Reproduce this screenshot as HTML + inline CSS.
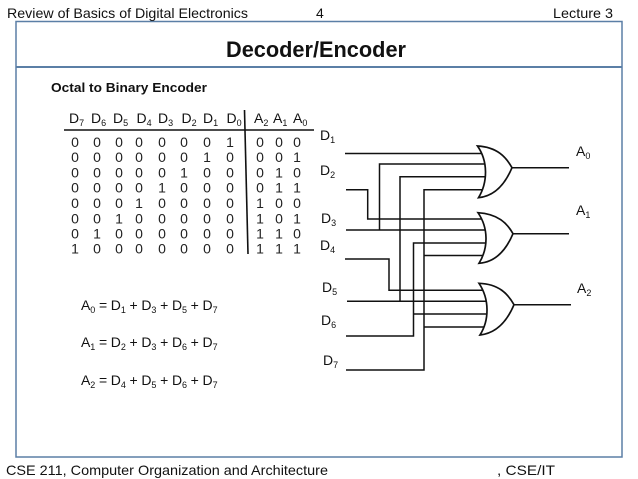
<!DOCTYPE html>
<html><head><meta charset="utf-8"><style>
html,body{margin:0;padding:0;background:#fff}
svg{display:block}
text{font-family:"Liberation Sans",sans-serif;fill:#111}
.s{font-size:14px}
.t{font-size:14px;text-anchor:middle;fill:#222}
.b{font-size:14px}
.e{font-size:14px;letter-spacing:-0.1px}
.u{font-size:9px}
.w{fill:none;stroke:#111;stroke-width:1.5}
.g{fill:#fff;stroke:#111;stroke-width:1.7}
</style></head><body>
<svg width="638" height="479" viewBox="0 0 638 479" xmlns="http://www.w3.org/2000/svg">
<rect x="16" y="21.5" width="606" height="435.5" fill="#fff" stroke="#5b7fa6" stroke-width="1.5"/>
<line x1="16" y1="67" x2="622" y2="67" stroke="#5b7fa6" stroke-width="2"/>
<text x="7" y="18" class="s" textLength="241" lengthAdjust="spacingAndGlyphs">Review of Basics of Digital Electronics</text>
<text x="316" y="18" class="s">4</text>
<text x="553" y="18" class="s" textLength="60" lengthAdjust="spacingAndGlyphs">Lecture 3</text>
<text x="226" y="57" font-size="22" font-weight="bold" textLength="180" lengthAdjust="spacingAndGlyphs">Decoder/Encoder</text>
<text x="51" y="92" font-size="13" font-weight="bold" textLength="156" lengthAdjust="spacingAndGlyphs">Octal to Binary Encoder</text>
<text x="6" y="475" class="s" textLength="322" lengthAdjust="spacingAndGlyphs">CSE 211, Computer Organization and Architecture</text>
<text x="497" y="475" class="s" textLength="58" lengthAdjust="spacingAndGlyphs">, CSE/IT</text>

<g class="b">
<text x="69" y="123" class="b">D<tspan class="u" dy="3">7</tspan></text>
<text x="91" y="123" class="b">D<tspan class="u" dy="3">6</tspan></text>
<text x="113" y="123" class="b">D<tspan class="u" dy="3">5</tspan></text>
<text x="136.5" y="123" class="b">D<tspan class="u" dy="3">4</tspan></text>
<text x="158" y="123" class="b">D<tspan class="u" dy="3">3</tspan></text>
<text x="181.5" y="123" class="b">D<tspan class="u" dy="3">2</tspan></text>
<text x="203" y="123" class="b">D<tspan class="u" dy="3">1</tspan></text>
<text x="226.5" y="123" class="b">D<tspan class="u" dy="3">0</tspan></text>
<text x="254" y="123" class="b">A<tspan class="u" dy="3">2</tspan></text>
<text x="273" y="123" class="b">A<tspan class="u" dy="3">1</tspan></text>
<text x="293" y="123" class="b">A<tspan class="u" dy="3">0</tspan></text>
</g>
<line x1="64" y1="130" x2="314" y2="130" stroke="#111" stroke-width="1.6"/>
<line x1="244.5" y1="110" x2="248" y2="254" stroke="#111" stroke-width="1.6"/>

<g class="t">
<text class="t" x="75" y="147">0</text><text class="t" x="97" y="147">0</text><text class="t" x="119" y="147">0</text><text class="t" x="139" y="147">0</text><text class="t" x="162" y="147">0</text><text class="t" x="184" y="147">0</text><text class="t" x="207" y="147">0</text><text class="t" x="230" y="147">1</text><text class="t" x="260" y="147">0</text><text class="t" x="279" y="147">0</text><text class="t" x="297" y="147">0</text>
<text class="t" x="75" y="162">0</text><text class="t" x="97" y="162">0</text><text class="t" x="119" y="162">0</text><text class="t" x="139" y="162">0</text><text class="t" x="162" y="162">0</text><text class="t" x="184" y="162">0</text><text class="t" x="207" y="162">1</text><text class="t" x="230" y="162">0</text><text class="t" x="260" y="162">0</text><text class="t" x="279" y="162">0</text><text class="t" x="297" y="162">1</text>
<text class="t" x="75" y="177.5">0</text><text class="t" x="97" y="177.5">0</text><text class="t" x="119" y="177.5">0</text><text class="t" x="139" y="177.5">0</text><text class="t" x="162" y="177.5">0</text><text class="t" x="184" y="177.5">1</text><text class="t" x="207" y="177.5">0</text><text class="t" x="230" y="177.5">0</text><text class="t" x="260" y="177.5">0</text><text class="t" x="279" y="177.5">1</text><text class="t" x="297" y="177.5">0</text>
<text class="t" x="75" y="192.5">0</text><text class="t" x="97" y="192.5">0</text><text class="t" x="119" y="192.5">0</text><text class="t" x="139" y="192.5">0</text><text class="t" x="162" y="192.5">1</text><text class="t" x="184" y="192.5">0</text><text class="t" x="207" y="192.5">0</text><text class="t" x="230" y="192.5">0</text><text class="t" x="260" y="192.5">0</text><text class="t" x="279" y="192.5">1</text><text class="t" x="297" y="192.5">1</text>
<text class="t" x="75" y="208">0</text><text class="t" x="97" y="208">0</text><text class="t" x="119" y="208">0</text><text class="t" x="139" y="208">1</text><text class="t" x="162" y="208">0</text><text class="t" x="184" y="208">0</text><text class="t" x="207" y="208">0</text><text class="t" x="230" y="208">0</text><text class="t" x="260" y="208">1</text><text class="t" x="279" y="208">0</text><text class="t" x="297" y="208">0</text>
<text class="t" x="75" y="223.5">0</text><text class="t" x="97" y="223.5">0</text><text class="t" x="119" y="223.5">1</text><text class="t" x="139" y="223.5">0</text><text class="t" x="162" y="223.5">0</text><text class="t" x="184" y="223.5">0</text><text class="t" x="207" y="223.5">0</text><text class="t" x="230" y="223.5">0</text><text class="t" x="260" y="223.5">1</text><text class="t" x="279" y="223.5">0</text><text class="t" x="297" y="223.5">1</text>
<text class="t" x="75" y="238.5">0</text><text class="t" x="97" y="238.5">1</text><text class="t" x="119" y="238.5">0</text><text class="t" x="139" y="238.5">0</text><text class="t" x="162" y="238.5">0</text><text class="t" x="184" y="238.5">0</text><text class="t" x="207" y="238.5">0</text><text class="t" x="230" y="238.5">0</text><text class="t" x="260" y="238.5">1</text><text class="t" x="279" y="238.5">1</text><text class="t" x="297" y="238.5">0</text>
<text class="t" x="75" y="253.5">1</text><text class="t" x="97" y="253.5">0</text><text class="t" x="119" y="253.5">0</text><text class="t" x="139" y="253.5">0</text><text class="t" x="162" y="253.5">0</text><text class="t" x="184" y="253.5">0</text><text class="t" x="207" y="253.5">0</text><text class="t" x="230" y="253.5">0</text><text class="t" x="260" y="253.5">1</text><text class="t" x="279" y="253.5">1</text><text class="t" x="297" y="253.5">1</text>
</g>

<text x="81" y="310" class="e">A<tspan class="u" dy="3">0</tspan><tspan dy="-3"> = D</tspan><tspan class="u" dy="3">1</tspan><tspan dy="-3"> + D</tspan><tspan class="u" dy="3">3</tspan><tspan dy="-3"> + D</tspan><tspan class="u" dy="3">5</tspan><tspan dy="-3"> + D</tspan><tspan class="u" dy="3">7</tspan></text>
<text x="81" y="347" class="e">A<tspan class="u" dy="3">1</tspan><tspan dy="-3"> = D</tspan><tspan class="u" dy="3">2</tspan><tspan dy="-3"> + D</tspan><tspan class="u" dy="3">3</tspan><tspan dy="-3"> + D</tspan><tspan class="u" dy="3">6</tspan><tspan dy="-3"> + D</tspan><tspan class="u" dy="3">7</tspan></text>
<text x="81" y="385" class="e">A<tspan class="u" dy="3">2</tspan><tspan dy="-3"> = D</tspan><tspan class="u" dy="3">4</tspan><tspan dy="-3"> + D</tspan><tspan class="u" dy="3">5</tspan><tspan dy="-3"> + D</tspan><tspan class="u" dy="3">6</tspan><tspan dy="-3"> + D</tspan><tspan class="u" dy="3">7</tspan></text>

<text x="320" y="140" class="b">D<tspan class="u" dy="3">1</tspan></text>
<text x="320" y="175" class="b">D<tspan class="u" dy="3">2</tspan></text>
<text x="321" y="223" class="b">D<tspan class="u" dy="3">3</tspan></text>
<text x="320" y="250" class="b">D<tspan class="u" dy="3">4</tspan></text>
<text x="322" y="292" class="b">D<tspan class="u" dy="3">5</tspan></text>
<text x="321" y="325" class="b">D<tspan class="u" dy="3">6</tspan></text>
<text x="323" y="365" class="b">D<tspan class="u" dy="3">7</tspan></text>
<text x="576" y="156" class="b">A<tspan class="u" dy="3">0</tspan></text>
<text x="576" y="215" class="b">A<tspan class="u" dy="3">1</tspan></text>
<text x="577" y="293" class="b">A<tspan class="u" dy="3">2</tspan></text>

<g class="w">
<path d="M345 153.5H484"/>
<path d="M485 164H379.5V230"/>
<path d="M485 176.7H400V301.5"/>
<path d="M484 189.7H424V370H346"/>
<path d="M346 189.7H367.7V219H484"/>
<path d="M346 230H485"/>
<path d="M485 243H413.5V336H346"/>
<path d="M424 255.5H485"/>
<path d="M345 259H389V290.3H484"/>
<path d="M347 301.3H486"/>
<path d="M413.5 314H486"/>
<path d="M424 327H486"/>
<path d="M512 167.7H569"/>
<path d="M513 233.7H569"/>
<path d="M514 304.7H571"/>
</g>
<g class="g">
<path d="M477.5 146C497 147 506 157 512 167.7C506 182 496 196 478.5 197.7C488 182 488 161 477.5 146Z"/>
<path d="M478 212.7C498 214 507 223 513 233.7C507 248 497 262 479 263.3C488.5 248 488.5 228 478 212.7Z"/>
<path d="M479 283.3C499 284 508 294 514 304.7C508 319 498 333 480 335C489.5 320 489.5 299 479 283.3Z"/>
</g>
</svg>
</body></html>
